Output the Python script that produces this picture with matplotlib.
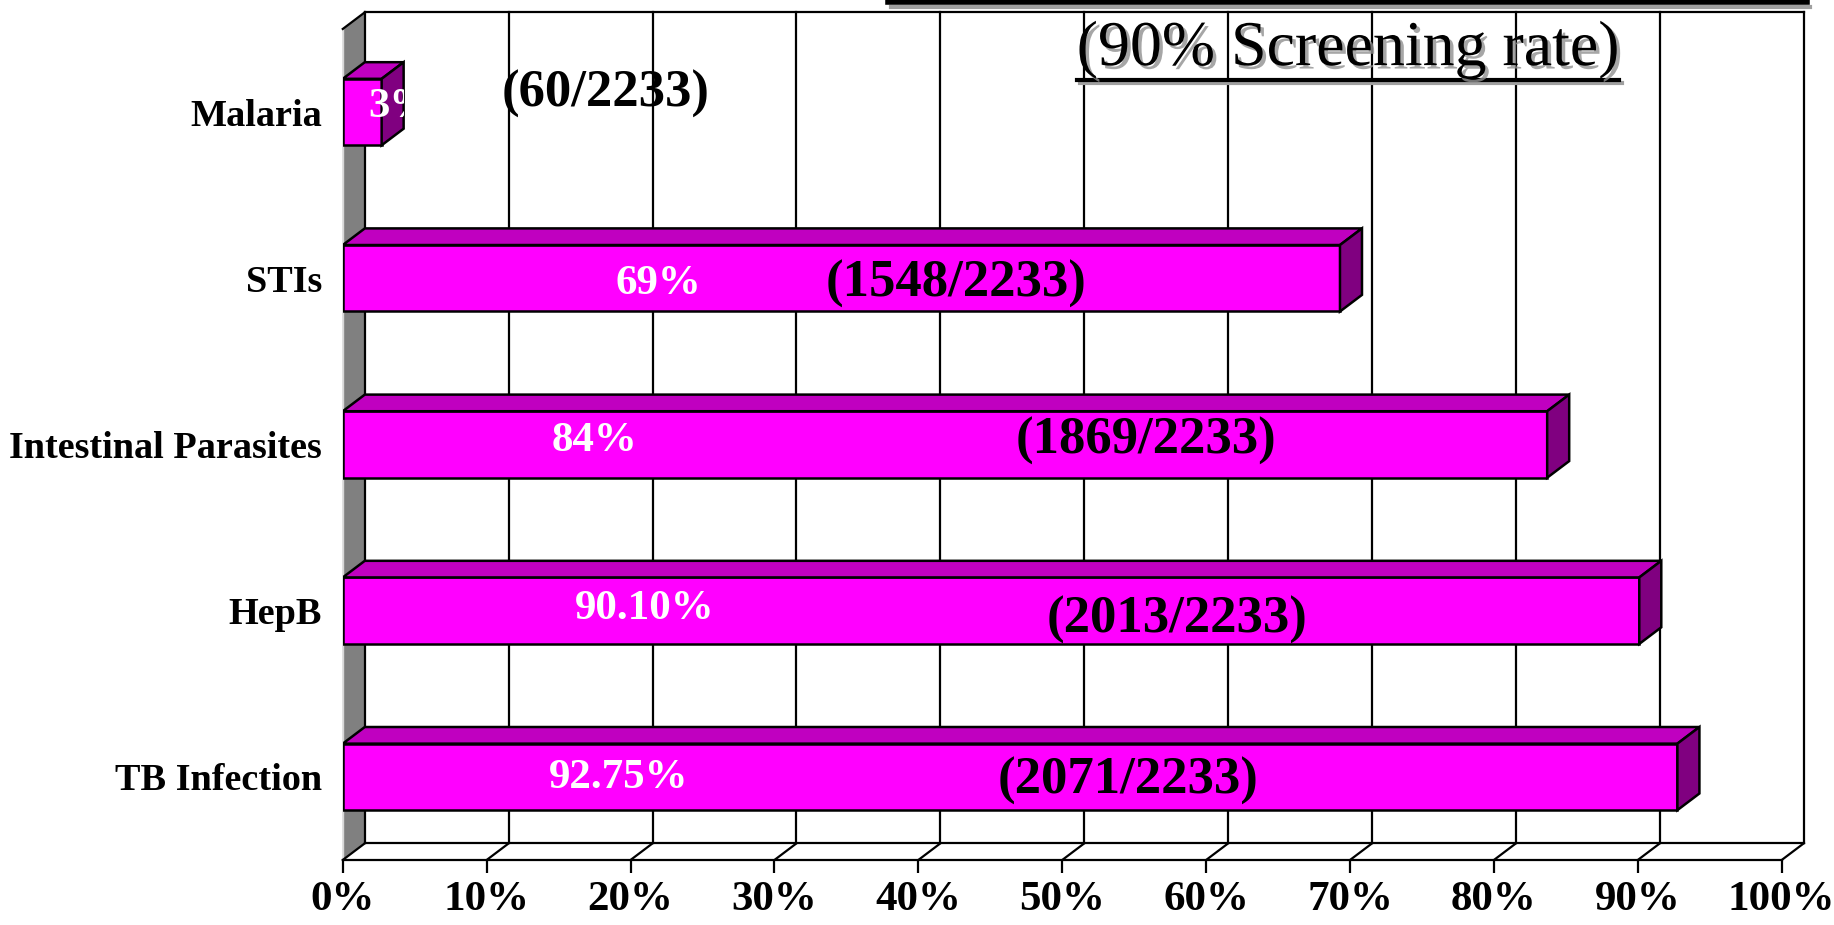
import matplotlib
matplotlib.use('Agg')
import matplotlib.pyplot as plt
import matplotlib.patheffects as pe
from matplotlib.patches import Polygon, Rectangle
from matplotlib.lines import Line2D

# data, bottom to top
categories = ['TB Infection', 'HepB', 'Intestinal Parasites', 'STIs', 'Malaria']
rates = [92.75, 90.1, 83.7, 69.3, 2.7]
rate_labels = ['92.75%', '90.10%', '84%', '69%', '3%']
count_labels = ['(2071/2233)', '(2013/2233)', '(1869/2233)', '(1548/2233)', '(60/2233)']
ticks = [0, 10, 20, 30, 40, 50, 60, 70, 80, 90, 100]
tick_labels = ['0%', '10%', '20%', '30%', '40%', '50%', '60%', '70%', '80%', '90%', '100%']
title = '(90% Screening rate)'

# where the labels sit (x in %, y shift in category units)
rate_x = [19.2, 21.0, 17.5, 21.9, 1.8]
rate_dy = [-0.006, 0.009, 0.018, -0.033, 0.03]
count_x = [54.6, 58.0, 55.8, 42.6, 18.3]
count_dy = [-0.024, -0.054, 0.024, -0.033, 0.108]

FRONT = '#ff00ff'
TOP = '#c000c0'
SIDE = '#800080'
WALL = '#808080'
DX, DY = 1.53, 0.1   # depth offset of the fake 3d
H = 0.2              # half bar height

plt.rcParams['font.family'] = ['Liberation Serif', 'DejaVu Serif']

fig = plt.figure(figsize=(18.34, 9.25), dpi=100)
ax = fig.add_axes([0.1869, 0.0703, 0.7846, 0.8984])
ax.set_xlim(0, 100)
ax.set_ylim(-0.5, 4.5)
for s in ax.spines.values():
    s.set_visible(False)
ax.patch.set_visible(False)

y0, y1 = -0.5, 4.5
line_kw = dict(color='black', lw=1.6, clip_on=False)

# left wall
ax.add_patch(Polygon([(0, y0), (DX, y0 + DY), (DX, y1 + DY), (0, y1)],
                     closed=True, fc=WALL, ec='none', clip_on=False, zorder=0.5))
ax.plot([0, 0], [y0, y1], color='#d8d8d8', lw=1, clip_on=False, zorder=0.6)
ax.plot([0, DX], [y1, y1 + DY], zorder=1, **line_kw)

# back wall grid + floor
for t in ticks:
    ax.plot([t + DX, t + DX], [y0 + DY, y1 + DY], zorder=1, **line_kw)
    ax.plot([t, t + DX], [y0, y0 + DY], zorder=1, **line_kw)
ax.plot([DX, 100 + DX], [y1 + DY, y1 + DY], zorder=1, **line_kw)
ax.plot([DX, 100 + DX], [y0 + DY, y0 + DY], zorder=1, **line_kw)
ax.plot([0, 100], [y0, y0], zorder=1, **line_kw)

# bars
ypos = list(range(len(categories)))
ax.barh(ypos, rates, height=2 * H, color=FRONT, edgecolor='black',
        linewidth=1.8, zorder=3)
for y, v in zip(ypos, rates):
    ax.add_patch(Polygon([(0, y + H), (v, y + H), (v + DX, y + H + DY), (DX, y + H + DY)],
                         closed=True, fc=TOP, ec='black', lw=1.8, zorder=3))
    ax.add_patch(Polygon([(v, y - H), (v + DX, y - H + DY), (v + DX, y + H + DY), (v, y + H)],
                         closed=True, fc=SIDE, ec='black', lw=1.8, zorder=3))

# labels
for i, (y, v) in enumerate(zip(ypos, rates)):
    ha = 'left' if v < 10 else 'center'
    txt = ax.text(rate_x[i], y + rate_dy[i], rate_labels[i], color='white',
                  fontsize=31, fontweight='bold', ha=ha, va='center', zorder=5)
    if v < 10:
        txt.set_clip_on(True)
        txt.set_clip_path(Rectangle((0, y - H), v + DX, 2 * H + DY, transform=ax.transData))
    ax.text(count_x[i], y + count_dy[i], count_labels[i], color='black',
            fontsize=38, fontweight='bold', ha='center', va='center', zorder=6)

ax.set_yticks(ypos, categories, fontsize=27.5, fontweight='bold')
ax.tick_params(axis='y', length=0, pad=15)
ax.set_xticks(ticks, tick_labels, fontsize=31, fontweight='bold')
ax.tick_params(axis='x', length=9.4, width=1.6, pad=6, direction='out')

# title with shadow and underline
shadow = [pe.withSimplePatchShadow(offset=(2.5, -2.5), shadow_rgbFace='#909090', alpha=0.8)]
t = fig.text(1348 / 1834, 1 - 50 / 925, title, fontsize=46, ha='center', va='center',
             path_effects=shadow)
fig.canvas.draw()
bb = t.get_window_extent().transformed(fig.transFigure.inverted())
uy = 1 - 79.5 / 925
fig.add_artist(Line2D([bb.x0 + 3 / 1834, bb.x1 + 3 / 1834], [uy - 3 / 925] * 2,
                      color='#a0a0a0', lw=3))
fig.add_artist(Line2D([bb.x0, bb.x1], [uy, uy], color='black', lw=3))

# underline of the title line that is cut off at the top
fig.add_artist(Line2D([891 / 1834, 1810 / 1834], [1 - 7 / 925] * 2, color='#a0a0a0', lw=3))
fig.add_artist(Line2D([888 / 1834, 1807 / 1834], [1 - 2 / 925] * 2, color='black', lw=4))

fig.savefig('out.png', dpi=100)
